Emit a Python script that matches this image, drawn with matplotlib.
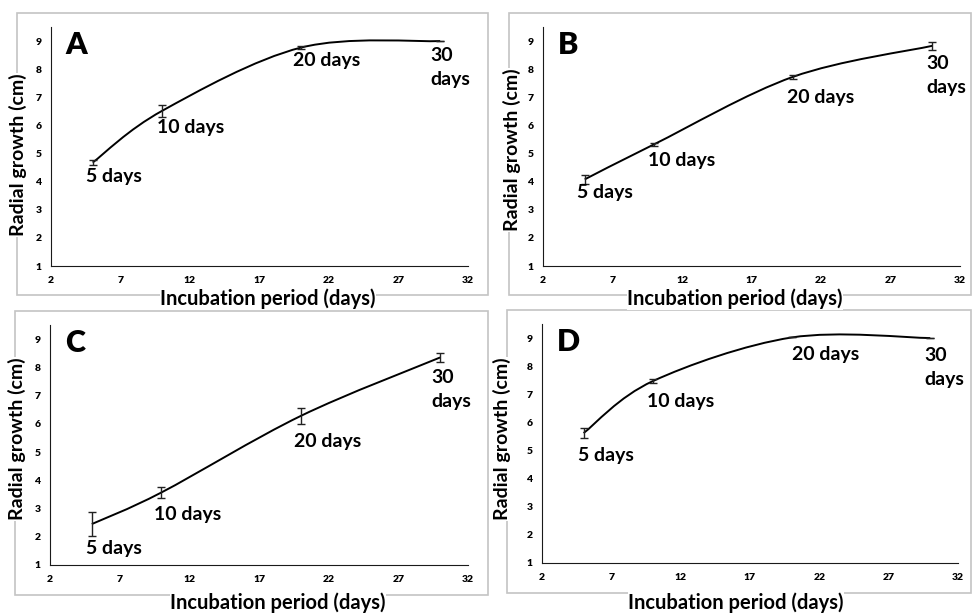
import numpy as np
import matplotlib
matplotlib.use('Agg')
import matplotlib.pyplot as plt
from matplotlib.path import Path
from matplotlib.patches import PathPatch, Rectangle

plt.rcParams['font.family'] = ['Lato', 'DejaVu Sans']
plt.rcParams['font.weight'] = 'bold'

# Data
days = [5, 10, 20, 30]
day_labels = ['5 days', '10 days', '20 days', '30\ndays']
panel_names = ['A', 'B', 'C', 'D']
growth_a = [4.68, 6.52, 8.77, 9.0]
growth_b = [4.08, 5.33, 7.73, 8.83]
growth_c = [2.45, 3.57, 6.28, 8.35]
growth_d = [5.62, 7.47, 9.02, 9.0]
err_a = [0.1, 0.21, 0.05, 0.0]
err_b = [0.16, 0.06, 0.07, 0.15]
err_c = [0.41, 0.19, 0.29, 0.15]
err_d = [0.19, 0.06, 0.0, 0.0]
x_ticks = [2, 7, 12, 17, 22, 27, 32]
y_ticks = [1, 2, 3, 4, 5, 6, 7, 8, 9]

growth = [growth_a, growth_b, growth_c, growth_d]
errors = [err_a, err_b, err_c, err_d]

W, H = 972, 613
fig = plt.figure(figsize=(W / 100, H / 100), dpi=100)


def fx(px):
    return px / W


def fy(py):
    return 1 - py / H


# layout in pixels: axes (left, right, top, bottom), box (x0, x1, y0, y1)
axes_px = [(51, 468, 27, 266), (543, 960, 27, 266),
           (50, 468, 325, 565), (542, 958, 324, 563)]
box_px = [(17, 488, 13, 295), (509, 971, 13, 295),
          (15, 488, 311, 595), (507, 971, 310, 593)]
ylab_px = [(18, 155), (512, 150), (17, 439), (502, 439)]
xlab_px = [(268, 299), (735, 299), (278, 603), (736, 603)]
# label positions in data units (x, y) per panel
label_pos = [
    [(4.55, 4.2), (9.6, 5.91), (19.4, 8.3), (29.3, 8.05)],
    [(4.45, 3.6), (9.55, 4.74), (19.55, 6.98), (29.55, 7.76)],
    [(4.55, 1.57), (9.45, 2.78), (19.5, 5.38), (29.4, 7.23)],
    [(4.6, 4.81), (9.55, 6.73), (20.0, 8.4), (29.6, 7.94)],
]


def smooth_path(xs, ys):
    # Excel-like smoothed line: cubic Bezier segments (Catmull-Rom control points)
    pts = np.column_stack([xs, ys]).astype(float)
    n = len(pts)
    verts = [pts[0]]
    codes = [Path.MOVETO]
    for i in range(n - 1):
        p0 = pts[max(i - 1, 0)]
        p1 = pts[i]
        p2 = pts[i + 1]
        p3 = pts[min(i + 2, n - 1)]
        c1 = p1 + (p2 - p0) / 6.0
        c2 = p2 - (p3 - p1) / 6.0
        verts += [c1, c2, p2]
        codes += [Path.CURVE4] * 3
    return Path(verts, codes)


for k in range(4):
    x0, x1, y0, y1 = box_px[k]
    fig.patches.append(Rectangle((fx(x0), fy(y1)), fx(x1 - x0), (y1 - y0) / H,
                                 transform=fig.transFigure, fill=False,
                                 ec='#c4c4c4', lw=1.2, zorder=0))

    l, r, t, b = axes_px[k]
    ax = fig.add_axes([fx(l), fy(b), fx(r - l), (b - t) / H])
    ax.set_xlim(2, 32)
    ax.set_ylim(1, 9.5)
    ax.set_xticks(x_ticks)
    ax.set_yticks(y_ticks)
    ax.tick_params(length=0, labelsize=7.5, pad=7)
    for lab in ax.get_xticklabels() + ax.get_yticklabels():
        lab.set_fontweight('heavy')
    ax.spines['top'].set_visible(False)
    ax.spines['right'].set_visible(False)
    ax.spines['left'].set_color('#1a1a1a')
    ax.spines['bottom'].set_color('#1a1a1a')
    ax.patch.set_alpha(0)

    path = smooth_path(days, growth[k])
    ax.add_patch(PathPatch(path, fill=False, ec='black', lw=1.4))
    ax.errorbar(days, growth[k], yerr=errors[k], fmt='none', ecolor='#222222',
                elinewidth=1, capsize=3, capthick=1)

    for (tx, ty), txt in zip(label_pos[k], day_labels):
        ax.text(tx, ty, txt, fontsize=14, fontweight='bold', ha='left',
                va='center', linespacing=1.5)

    ax.text(0.035, 0.985, panel_names[k], transform=ax.transAxes, fontsize=22,
            fontweight='heavy', ha='left', va='top')

    lx, ly = ylab_px[k]
    fig.text(fx(lx), fy(ly), 'Radial growth (cm)', rotation=90, fontsize=14,
             fontweight='bold', ha='center', va='center',
             bbox=dict(fc='white', ec='none', pad=0.5))
    lx, ly = xlab_px[k]
    fig.text(fx(lx), fy(ly), 'Incubation period (days)', fontsize=14.5,
             fontweight='bold', ha='center', va='center',
             bbox=dict(fc='white', ec='none', pad=0.5))

fig.savefig('out.png', dpi=100)
